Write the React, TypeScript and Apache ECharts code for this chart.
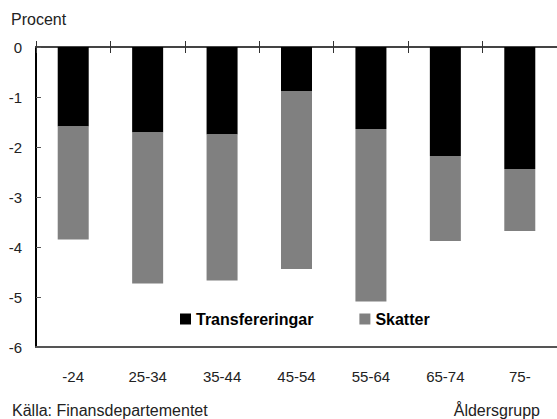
import React, { useEffect, useRef } from "react";
import * as echarts from "echarts";

const categories = ["-24", "25-34", "35-44", "45-54", "55-64", "65-74", "75-"];
const transfereringar = [-1.59, -1.71, -1.75, -0.88, -1.64, -2.18, -2.44];
const skatter = [-2.26, -3.02, -2.92, -3.56, -3.45, -1.7, -1.24];
const seriesNames = ["Transfereringar", "Skatter"];
const yMin = -6;
const yMax = 0;
const yInterval = 1;

const FONT = "'Liberation Sans', Arial, Helvetica, sans-serif";

export default function App() {
  const ref = useRef<HTMLDivElement>(null);

  useEffect(() => {
    document.body.style.margin = "0";
    if (!ref.current) return;
    const chart = echarts.init(ref.current, undefined, { renderer: "svg" });
    chart.setOption({
      animation: false,
      backgroundColor: "#ffffff",
      textStyle: { fontFamily: FONT },
      grid: { left: 36, top: 47, width: 525, height: 300, containLabel: false },
      legend: {
        data: seriesNames,
        left: 175,
        top: 306,
        icon: "rect",
        itemWidth: 11,
        itemHeight: 11,
        itemGap: 46,
        textStyle: { fontSize: 16, fontWeight: "bold", color: "#000", fontFamily: FONT },
      },
      xAxis: [
        {
          type: "category",
          data: categories,
          position: "bottom",
          axisLine: { show: true, onZero: false, lineStyle: { color: "#555", width: 2 } },
          axisTick: { show: false },
          axisLabel: { fontSize: 15, color: "#222", margin: 22, fontFamily: FONT },
          splitLine: { show: false },
        },
        {
          type: "category",
          data: categories,
          position: "top",
          axisLine: { show: true, onZero: false, lineStyle: { color: "#444", width: 2 } },
          axisTick: { show: false },
          axisLabel: { show: false },
          splitLine: { show: false },
        },
        {
          type: "category",
          data: categories,
          position: "top",
          offset: -6,
          axisLine: { show: false, onZero: false },
          axisTick: { show: true, inside: false, length: 12, interval: 0, lineStyle: { color: "#333", width: 1 } },
          axisLabel: { show: false },
          splitLine: { show: false },
        },
      ],
      yAxis: {
        type: "value",
        min: yMin,
        max: yMax,
        interval: yInterval,
        axisLine: { show: true, onZero: false, lineStyle: { color: "#000", width: 2 } },
        axisTick: { show: true, inside: true, length: 5, lineStyle: { color: "#555", width: 1 } },
        axisLabel: { fontSize: 15, color: "#222", margin: 14, fontFamily: FONT },
        splitLine: { show: false },
      },
      series: [
        {
          name: seriesNames[0],
          type: "bar",
          stack: "total",
          xAxisIndex: 0,
          barWidth: 31,
          itemStyle: { color: "#000000" },
          data: transfereringar,
        },
        {
          name: seriesNames[1],
          type: "bar",
          stack: "total",
          xAxisIndex: 0,
          barWidth: 31,
          itemStyle: { color: "#808080" },
          data: skatter,
        },
      ],
      graphic: [
        {
          type: "text",
          left: 11,
          top: 11,
          style: { text: "Procent", fontSize: 16, fill: "#222", fontFamily: FONT },
        },
        {
          type: "text",
          left: 12,
          top: 402,
          style: { text: "Källa: Finansdepartementet", fontSize: 16, fill: "#222", fontFamily: FONT },
        },
        {
          type: "text",
          right: 17,
          top: 402,
          style: { text: "Åldersgrupp", fontSize: 16, fill: "#222", fontFamily: FONT },
        },
      ],
    });
    return () => chart.dispose();
  }, []);

  return <div ref={ref} style={{ width: 557, height: 419 }} />;
}
